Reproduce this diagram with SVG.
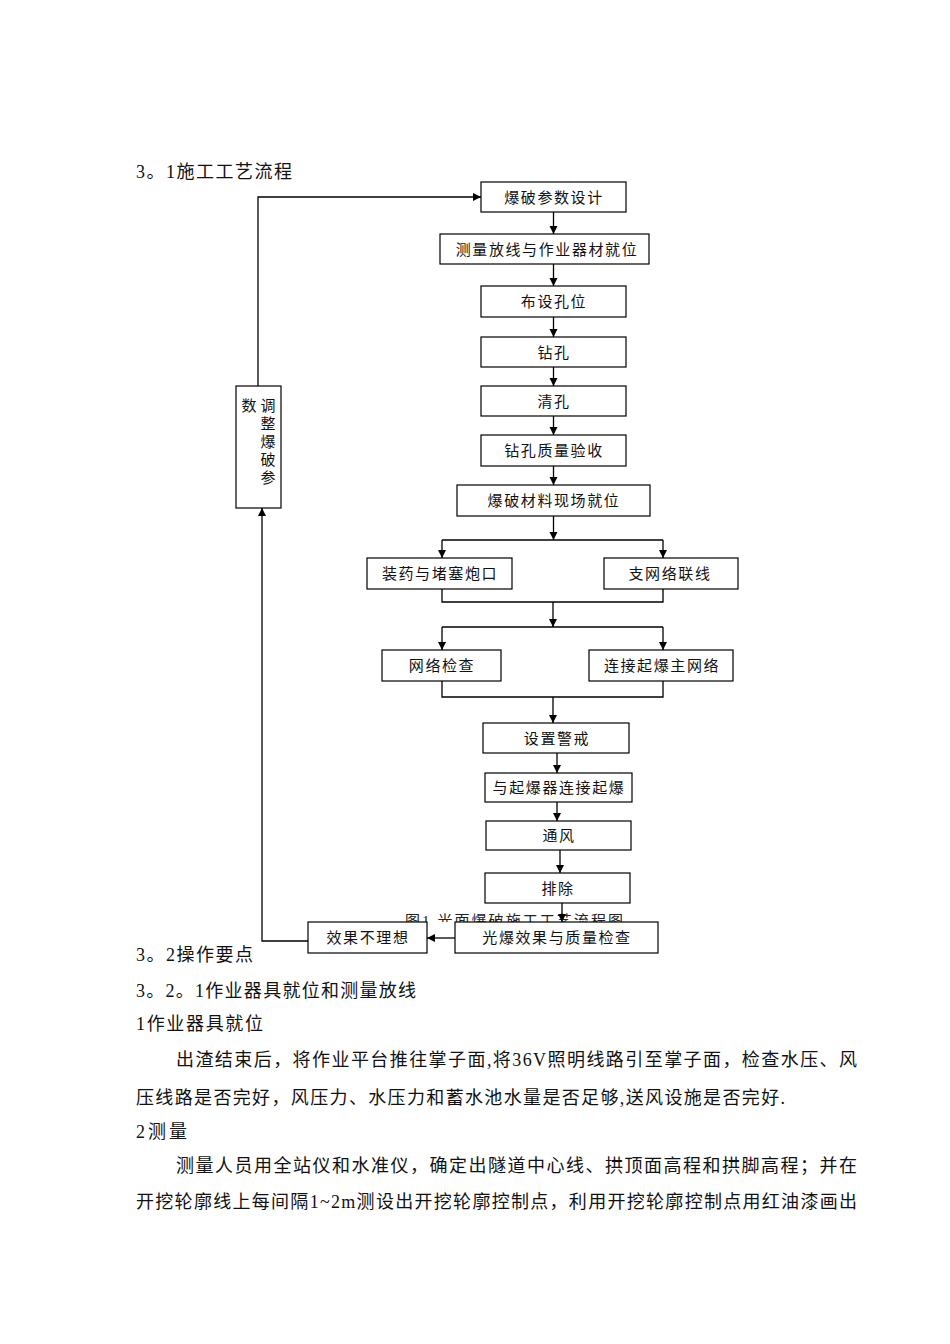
<svg xmlns="http://www.w3.org/2000/svg" width="950" height="1344" viewBox="0 0 950 1344">
<defs>
<marker id="arr" markerUnits="userSpaceOnUse" markerWidth="9" markerHeight="9" refX="8" refY="4" orient="auto">
<path d="M0,0 L8,4 L0,8 z" fill="#000"/>
</marker>
<clipPath id="capclip"><rect x="380" y="880" width="280" height="42"/></clipPath>
<style>
.doc{font-family:"Liberation Serif","Noto Sans CJK SC",serif;font-size:18px;fill:#111}
.bx rect{fill:#fff;stroke:#000;stroke-width:1.2}
.bx text{font-family:"Noto Sans CJK SC",sans-serif;font-size:15px;fill:#111;text-anchor:middle;letter-spacing:1.6px}
.bx text.vt{writing-mode:vertical-rl;text-anchor:start;letter-spacing:3px}
.cn path{fill:none;stroke:#000;stroke-width:1.3}
.cap{font-family:"Liberation Serif","Noto Sans CJK SC",serif;font-size:15px;fill:#222}
</style>
</defs>
<rect width="950" height="1344" fill="#fff"/>

<g id="doc-text">
<text class="doc" x="136" y="178" textLength="156" lengthAdjust="spacing">3。1施工工艺流程</text>
<text class="doc" x="136" y="961" textLength="117" lengthAdjust="spacing">3。2操作要点</text>
<text class="doc" x="136" y="997" textLength="280" lengthAdjust="spacing">3。2。1作业器具就位和测量放线</text>
<text class="doc" x="136" y="1030" textLength="127" lengthAdjust="spacing">1作业器具就位</text>
<text class="doc" x="176" y="1066" textLength="681" lengthAdjust="spacing">出渣结束后，将作业平台推往掌子面,将36V照明线路引至掌子面，检查水压、风</text>
<text class="doc" x="136" y="1104" textLength="649" lengthAdjust="spacing">压线路是否完好，风压力、水压力和蓄水池水量是否足够,送风设施是否完好.</text>
<text class="doc" x="136" y="1138" textLength="51" lengthAdjust="spacing">2测量</text>
<text class="doc" x="176" y="1172" textLength="681" lengthAdjust="spacing">测量人员用全站仪和水准仪，确定出隧道中心线、拱顶面高程和拱脚高程；并在</text>
<text class="doc" x="136" y="1208" textLength="721" lengthAdjust="spacing">开挖轮廓线上每间隔1~2m测设出开挖轮廓控制点，利用开挖轮廓控制点用红油漆画出</text>
</g>

<g id="caption" clip-path="url(#capclip)">
<text class="cap" x="405" y="926" textLength="218" lengthAdjust="spacing">图1 光面爆破施工工艺流程图</text>
</g>

<g id="connectors" class="cn">
<path d="M308,941 H262 V508" marker-end="url(#arr)"/>
<path d="M258,386 V197 H481" marker-end="url(#arr)"/>
<path d="M553.5,212 V234" marker-end="url(#arr)"/>
<path d="M553.5,264 V286" marker-end="url(#arr)"/>
<path d="M553.5,317 V337" marker-end="url(#arr)"/>
<path d="M553.5,367 V386" marker-end="url(#arr)"/>
<path d="M553.5,416 V435" marker-end="url(#arr)"/>
<path d="M553.5,466 V485" marker-end="url(#arr)"/>
<path d="M553.5,516 V540" marker-end="url(#arr)"/>
<path d="M442,540 H663"/>
<path d="M442,540 V558" marker-end="url(#arr)"/>
<path d="M663,540 V558" marker-end="url(#arr)"/>
<path d="M442,589 V602 H663 V589"/>
<path d="M553,602 V627" marker-end="url(#arr)"/>
<path d="M442,627 H663"/>
<path d="M442,627 V650" marker-end="url(#arr)"/>
<path d="M663,627 V650" marker-end="url(#arr)"/>
<path d="M442,681 V697 H663 V681"/>
<path d="M553,697 V723" marker-end="url(#arr)"/>
<path d="M557,753 V773" marker-end="url(#arr)"/>
<path d="M557,802 V821" marker-end="url(#arr)"/>
<path d="M560,850 V873" marker-end="url(#arr)"/>
<path d="M562,903 V922" marker-end="url(#arr)"/>
<path d="M455,938 H427" marker-end="url(#arr)"/>
</g>

<g id="n1" class="bx"><rect x="481" y="182" width="145" height="30"/><text x="554" y="202.5">爆破参数设计</text></g>
<g id="n2" class="bx"><rect x="440" y="234" width="209" height="30"/><text x="547" y="254.5">测量放线与作业器材就位</text></g>
<g id="n3" class="bx"><rect x="481" y="286" width="145" height="31"/><text x="554" y="307">布设孔位</text></g>
<g id="n4" class="bx"><rect x="481" y="337" width="145" height="30"/><text x="554" y="357.5">钻孔</text></g>
<g id="n5" class="bx"><rect x="481" y="386" width="145" height="30"/><text x="554" y="406.5">清孔</text></g>
<g id="n6" class="bx"><rect x="481" y="435" width="145" height="31"/><text x="554" y="456">钻孔质量验收</text></g>
<g id="n7" class="bx"><rect x="457" y="485" width="193" height="31"/><text x="554" y="506">爆破材料现场就位</text></g>
<g id="n8" class="bx"><rect x="367" y="558" width="145" height="31"/><text x="440" y="579">装药与堵塞炮口</text></g>
<g id="n9" class="bx"><rect x="604" y="558" width="134" height="31"/><text x="670" y="579">支网络联线</text></g>
<g id="n10" class="bx"><rect x="382" y="650" width="119" height="31"/><text x="442" y="671">网络检查</text></g>
<g id="n11" class="bx"><rect x="589" y="650" width="144" height="31"/><text x="662" y="671">连接起爆主网络</text></g>
<g id="n12" class="bx"><rect x="483" y="723" width="146" height="30"/><text x="557" y="743.5">设置警戒</text></g>
<g id="n13" class="bx"><rect x="485" y="773" width="147" height="29"/><text x="559" y="793">与起爆器连接起爆</text></g>
<g id="n14" class="bx"><rect x="486" y="821" width="145" height="29"/><text x="559" y="841">通风</text></g>
<g id="n15" class="bx"><rect x="485" y="873" width="145" height="30"/><text x="558" y="893.5">排除</text></g>
<g id="n16" class="bx"><rect x="455" y="922" width="203" height="31"/><text x="557" y="943">光爆效果与质量检查</text></g>
<g id="n17" class="bx"><rect x="308" y="922" width="119" height="31"/><text x="368" y="943">效果不理想</text></g>
<g id="n18" class="bx"><rect x="236" y="386" width="45" height="122"/>
<text class="vt" x="268" y="397.5">调整爆破参</text>
<text class="vt" x="249" y="397.5">数</text>
</g>
</svg>
